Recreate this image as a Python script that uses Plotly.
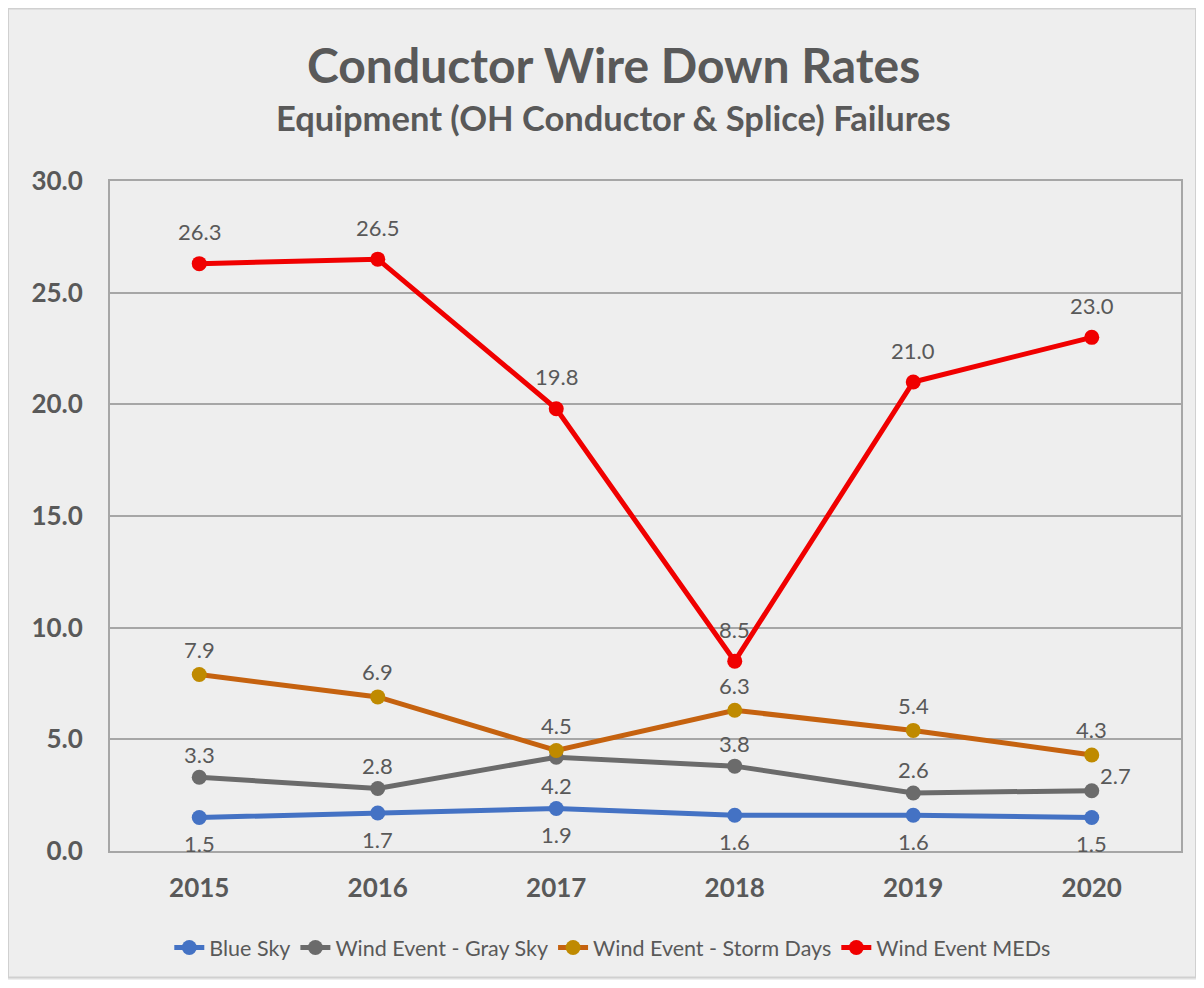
import plotly.graph_objects as go

years = ["2015", "2016", "2017", "2018", "2019", "2020"]

blue_sky = [1.5, 1.7, 1.9, 1.6, 1.6, 1.5]
gray_sky = [3.3, 2.8, 4.2, 3.8, 2.6, 2.7]
storm_days = [7.9, 6.9, 4.5, 6.3, 5.4, 4.3]
meds = [26.3, 26.5, 19.8, 8.5, 21.0, 23.0]

y_ticks = [0, 5, 10, 15, 20, 25, 30]

TXT = "#595959"
FONT = "Lato, 'Open Sans', sans-serif"

# figure size / margins (page body adds 8px around)
W, H = 1188, 972
ML, MR, MT, MB = 102, 15, 173, 127
PW, PH = W - ML - MR, H - MT - MB

# name, values, line colour, marker colour, label offsets (xshift, yshift)
series = [
    ("Blue Sky", blue_sky, "#4472C4", "#4472C4", [(0, -26)] * 6),
    ("Wind Event - Gray Sky", gray_sky, "#6B6B6B", "#6B6B6B",
     [(0, 23), (0, 23), (0, -28), (0, 23), (0, 23), (24, 15)]),
    ("Wind Event - Storm Days", storm_days, "#C5620F", "#BF8A00", [(0, 25)] * 6),
    ("Wind Event MEDs", meds, "#F00000", "#F00000", [(0, 32)] * 6),
]

fig = go.Figure()
annotations = []
for name, vals, lc, mc, offs in series:
    fig.add_trace(go.Scatter(
        x=years, y=vals, name=name,
        mode="lines+markers",
        line=dict(color=lc, width=5),
        marker=dict(color=mc, size=15),
        cliponaxis=False,
    ))
    # category axis: annotations placed by category index
    for i, (v, (dx, dy)) in enumerate(zip(vals, offs)):
        annotations.append(dict(
            x=i, y=v, xref="x", yref="y", text=f"{v:.1f}", showarrow=False,
            xshift=dx, yshift=dy,
            font=dict(size=22, color=TXT, family=FONT),
        ))

annotations += [
    dict(text="<b>Conductor Wire Down Rates</b>", xref="paper", yref="paper",
         x=0.47, y=(PH + MT - 56) / PH, yanchor="middle", showarrow=False,
         font=dict(size=48, color=TXT, family=FONT)),
    dict(text="<b>Equipment (OH Conductor &amp; Splice) Failures</b>", xref="paper", yref="paper",
         x=0.47, y=(PH + MT - 109) / PH, yanchor="middle", showarrow=False,
         font=dict(size=34.5, color=TXT, family=FONT)),
]

fig.update_layout(
    width=W, height=H,
    paper_bgcolor="#EEEEEE",
    plot_bgcolor="#EEEEEE",
    margin=dict(l=ML, r=MR, t=MT, b=MB),
    font=dict(family=FONT, color=TXT),
    xaxis=dict(
        type="category", range=[-0.5, 5.5],
        showgrid=False, showline=True, linecolor="#A6A6A6", linewidth=2, mirror=True,
        ticks="", tickfont=dict(size=26, color=TXT, family=FONT, weight="bold"),
        ticklabelstandoff=13,
    ),
    yaxis=dict(
        range=[0, 30], tickvals=y_ticks, tickformat=".1f",
        showgrid=True, gridcolor="#A6A6A6", gridwidth=2,
        showline=True, linecolor="#A6A6A6", linewidth=2, mirror=True,
        zeroline=False, ticks="",
        tickfont=dict(size=26, color=TXT, family=FONT, weight="bold"),
        ticklabelstandoff=20,
    ),
    legend=dict(
        orientation="h", x=0.469, xanchor="center", y=-0.144, yanchor="middle",
        font=dict(size=21.5, color=TXT, family=FONT),
        bgcolor="rgba(0,0,0,0)",
    ),
    showlegend=True,
    annotations=annotations,
    shapes=[dict(
        type="rect", xref="paper", yref="paper",
        x0=-ML / PW, x1=(W - ML) / PW, y0=-MB / PH, y1=(H - MB) / PH,
        line=dict(color="#D0D0D0", width=2), fillcolor="rgba(0,0,0,0)", layer="below",
    )],
)

fig.write_html("out.html")
